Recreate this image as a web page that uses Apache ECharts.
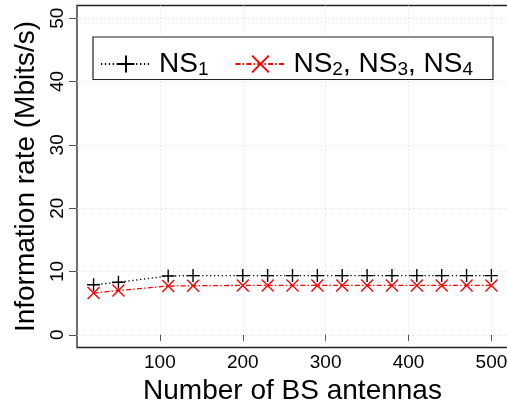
<!DOCTYPE html>
<html>
<head>
<meta charset="utf-8">
<script src="https://cdn.jsdelivr.net/npm/echarts@6/dist/echarts.min.js"></script>
<style>
  html, body { margin: 0; padding: 0; background: #fff; }
  #chart { width: 507px; height: 402px; }
</style>
</head>
<body>
<div id="chart"></div>
<script>
// Number of BS antennas
const antennas = [20, 50, 110, 140, 200, 230, 260, 290, 320, 350, 380, 410, 440, 470, 500];
// Information rate (Mbits/s)
const rateNS1 = [7.9, 8.3, 9.3, 9.35, 9.35, 9.35, 9.35, 9.35, 9.35, 9.35, 9.35, 9.35, 9.35, 9.35, 9.35];
const rateNS234 = [6.6, 7.0, 7.7, 7.75, 7.8, 7.8, 7.8, 7.8, 7.8, 7.8, 7.8, 7.8, 7.8, 7.8, 7.8];
// Tick labels
const xTicks = [100, 200, 300, 400, 500];
const yTicks = [0, 10, 20, 30, 40, 50];

const FONT = 'Liberation Sans, Arial, sans-serif';
const plusPath = 'path://M0,5L10,5M5,0L5,10';
const crossPath = 'path://M0,0L10,10M10,0L0,10';

const pairs = arr => antennas.map((x, i) => [x, arr[i]]);

const chart = echarts.init(document.getElementById('chart'), null, { renderer: 'canvas' });
chart.setOption({
  animation: false,
  backgroundColor: '#fff',
  textStyle: { fontFamily: FONT },
  grid: {
    left: 77, top: 5.5, width: 431, height: 342,
    outerBoundsMode: 'none', containLabel: false,
    show: true, borderColor: '#222', borderWidth: 1.3, backgroundColor: 'transparent'
  },
  legend: {
    left: 93, top: 37,
    orient: 'horizontal',
    itemWidth: 50, itemHeight: 21, itemGap: 26,
    padding: [13, 20, 0, 7],
    borderColor: '#222', borderWidth: 1.2,
    backgroundColor: '#fff',
    data: ['NS1', 'NS234'],
    formatter: name => name === 'NS1'
      ? '{n|NS}{s|1}'
      : '{n|NS}{s|2}{n|, NS}{s|3}{n|, NS}{s|4}',
    textStyle: {
      fontFamily: FONT, color: '#000',
      padding: [0, 0, 0, 3],
      rich: {
        n: { fontSize: 28, fontFamily: FONT, color: '#000' },
        s: { fontSize: 19, fontFamily: FONT, color: '#000', padding: [12, 0, 0, 0] }
      }
    }
  },
  xAxis: {
    type: 'value', min: 0, max: 520,
    name: 'Number of BS antennas', nameLocation: 'middle', nameGap: 22,
    nameTextStyle: { fontSize: 28, fontFamily: FONT, color: '#000' },
    axisLine: { show: false },
    axisTick: { show: true, length: 6, customValues: xTicks, lineStyle: { color: '#555', width: 1 } },
    axisLabel: { customValues: xTicks, fontSize: 19, color: '#000', margin: 6, fontFamily: FONT },
    splitLine: { show: true, lineStyle: { color: '#d6d6d6', type: [1, 3], width: 1 } }
  },
  yAxis: {
    type: 'value', min: -2, max: 52,
    name: 'Information rate (Mbits/s)', nameLocation: 'middle', nameGap: 34,
    nameTextStyle: { fontSize: 28, fontFamily: FONT, color: '#000' },
    axisLine: { show: false },
    axisTick: { show: true, length: 8, customValues: yTicks, lineStyle: { color: '#555', width: 1 } },
    axisLabel: { customValues: yTicks, fontSize: 19, color: '#000', rotate: 90, margin: 10, fontFamily: FONT },
    splitLine: { show: true, lineStyle: { color: '#d6d6d6', type: [1, 3], width: 1 } }
  },
  series: [
    {
      name: 'NS1', type: 'line', data: pairs(rateNS1),
      symbol: plusPath, symbolSize: 13,
      itemStyle: { color: '#000', borderColor: '#000', borderWidth: 1.4 },
      lineStyle: { color: '#000', width: 1.3, type: [1.3, 2.6] },
      z: 3
    },
    {
      name: 'NS234', type: 'line', data: pairs(rateNS234),
      symbol: crossPath, symbolSize: 12,
      itemStyle: { color: '#ff0000', borderColor: '#ff0000', borderWidth: 1.4 },
      lineStyle: { color: '#ff0000', width: 1.3, type: [5, 2.2, 1.5, 2.2] },
      z: 2
    }
  ]
});
</script>
</body>
</html>
